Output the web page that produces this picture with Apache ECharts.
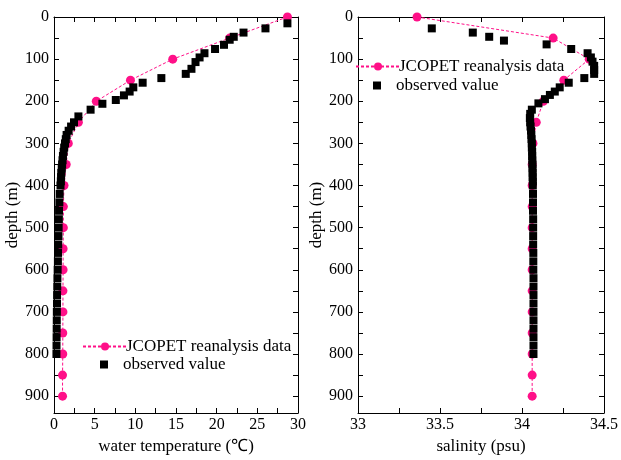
<!DOCTYPE html>
<html>
<head>
<meta charset="utf-8">
<script src="https://cdn.jsdelivr.net/npm/echarts@6/dist/echarts.min.js"></script>
<style>
  html, body { margin: 0; padding: 0; background: #fff; }
  #main { width: 621px; height: 460px; }
</style>
</head>
<body>
<div id="main"></div>
<script>
// JCOPET reanalysis profiles
var jcDepth = [0, 50, 100, 150, 200, 250, 300, 350, 400, 450, 500, 550, 600, 650, 700, 750, 800, 850, 900];
var jcTemp = [28.7, 21.6, 14.6, 9.4, 5.2, 3.0, 1.76, 1.5, 1.23, 1.15, 1.15, 1.12, 1.12, 1.1, 1.1, 1.08, 1.08, 1.05, 1.05];
var jcSal = [33.36, 34.19, 34.41, 34.255, 34.13, 34.087, 34.067, 34.062, 34.062, 34.062, 34.062, 34.062, 34.062, 34.062, 34.062, 34.062, 34.062, 34.062, 34.062];

// observed temperature profile
var obsTempDepth = [15, 27, 37, 47, 54, 66, 76, 86, 96, 107, 123, 135, 145, 156, 167, 177, 186, 197, 206, 220, 236, 250,
    260, 270, 280, 290, 300, 310, 320, 330, 340, 350, 360, 370, 380, 390, 400,
    420, 440, 460, 480, 500, 520, 540, 560, 580, 600, 620, 640, 660, 680, 700, 720, 740, 760, 780, 800];
var obsTemp = [28.7, 26.0, 23.3, 22.1, 21.6, 20.9, 19.8, 18.5, 17.9, 17.4, 16.9, 16.2, 13.2, 10.9, 9.75, 9.3, 8.6, 7.6, 5.95, 4.5, 3.0, 2.46,
    2.1, 1.8, 1.55, 1.45, 1.35, 1.25, 1.18, 1.1, 1.05, 1.0, 0.95, 0.9, 0.87, 0.84, 0.8,
    0.7, 0.66, 0.62, 0.6, 0.57, 0.55, 0.52, 0.5, 0.48, 0.45, 0.42, 0.4, 0.38, 0.37, 0.35, 0.34, 0.33, 0.32, 0.31, 0.3];

// observed salinity profile
var obsSalDepth = [27, 37, 47, 56, 65, 76, 86, 96, 106, 116, 126, 135, 145, 156, 167, 177, 185, 195, 205,
    220, 230, 240, 250, 260, 270, 280, 290, 300, 310, 320, 330, 340, 350, 360, 370, 380, 390, 400,
    420, 440, 460, 480, 500, 520, 540, 560, 580, 600, 620, 640, 660, 680, 700, 720, 740, 760, 780, 800];
var obsSal = [33.45, 33.70, 33.80, 33.89, 34.15, 34.30, 34.40, 34.42, 34.43, 34.44, 34.44, 34.44, 34.38, 34.285, 34.23, 34.20, 34.17, 34.14, 34.10,
    34.06, 34.05, 34.048, 34.05, 34.052, 34.055, 34.057, 34.058, 34.06, 34.06, 34.062, 34.062, 34.063, 34.064, 34.064, 34.065, 34.065, 34.066, 34.066,
    34.067, 34.067, 34.067, 34.068, 34.068, 34.068, 34.068, 34.069, 34.069, 34.069, 34.07, 34.07, 34.07, 34.07, 34.07, 34.07, 34.07, 34.07, 34.07, 34.07];

function pairs(xs, ys) {
    return xs.map(function (x, i) { return [x, ys[i]] })
}

var font = 'Liberation Serif'
var pink = '#ff1088'
var LINE_NAME = 'JCOPET reanalysis data'
var OBS_NAME = 'observed value'

function depthAxis(grid, right) {
    return {
        type: 'value',
        gridIndex: grid,
        position: right ? 'right' : 'left',
        inverse: true,
        min: 0,
        max: 940,
        interval: 50,
        name: right ? '' : 'depth (m)',
        nameLocation: 'middle',
        nameGap: 29,
        nameTextStyle: { fontFamily: font, fontSize: 17, color: '#000' },
        axisLine: { show: true, onZero: false, lineStyle: { color: '#000', width: 1 } },
        axisTick: { show: true, inside: true, length: 5, lineStyle: { color: '#000' } },
        axisLabel: {
            show: !right,
            fontFamily: font,
            fontSize: 16,
            color: '#000',
            margin: 5,
            formatter: function (v) { return v % 100 === 0 ? String(v) : '' }
        },
        splitLine: { show: false }
    }
}

function valueAxis(grid, top, min, max, step, labelStep, name) {
    return {
        type: 'value',
        gridIndex: grid,
        position: top ? 'top' : 'bottom',
        min: min,
        max: max,
        interval: step,
        name: top ? '' : name,
        nameLocation: 'middle',
        nameGap: 25,
        nameTextStyle: { fontFamily: font, fontSize: 17, color: '#000' },
        axisLine: { show: true, onZero: false, lineStyle: { color: '#000', width: 1 } },
        axisTick: { show: true, inside: true, length: 5, lineStyle: { color: '#000' } },
        axisLabel: {
            show: !top,
            fontFamily: font,
            fontSize: 16,
            color: '#000',
            margin: 4,
            formatter: function (v) {
                var k = Math.round(v / labelStep * 1000) / 1000
                return Math.abs(k - Math.round(k)) < 1e-6 ? String(Math.round(v * 100) / 100) : ''
            }
        },
        splitLine: { show: false }
    }
}

function lineLegend(left, top) {
    return {
        left: left, top: top, orient: 'vertical',
        itemWidth: 44, itemHeight: 10,
        textStyle: { fontFamily: font, fontSize: 17, color: '#000', padding: [0, 0, 0, -6] },
        data: [LINE_NAME]
    }
}

function obsLegend(left, top) {
    return {
        left: left, top: top, orient: 'vertical',
        itemWidth: 8, itemHeight: 8,
        textStyle: { fontFamily: font, fontSize: 17, color: '#000', padding: [0, 0, 0, 10] },
        data: [OBS_NAME]
    }
}

var chart = echarts.init(document.getElementById('main'))

var option = {
    animation: false,
    backgroundColor: '#fff',
    textStyle: { fontFamily: font },
    grid: [
        { left: 54, top: 17, width: 244, height: 396 },
        { left: 358, top: 17, width: 247, height: 396 }
    ],
    legend: [
        lineLegend(77, 333),
        obsLegend(95, 351),
        lineLegend(350, 53),
        obsLegend(368, 72)
    ],
    xAxis: [
        valueAxis(0, false, 0, 30, 2.5, 5, 'water temperature (℃)'),
        valueAxis(1, false, 33, 34.5, 0.25, 0.5, 'salinity (psu)'),
        valueAxis(0, true, 0, 30, 2.5, 5, ''),
        valueAxis(1, true, 33, 34.5, 0.25, 0.5, '')
    ],
    yAxis: [
        depthAxis(0, false),
        depthAxis(1, false),
        depthAxis(0, true),
        depthAxis(1, true)
    ],
    series: [
        {
            name: LINE_NAME,
            type: 'line',
            xAxisIndex: 0, yAxisIndex: 0,
            data: pairs(jcTemp, jcDepth),
            symbol: 'circle', symbolSize: 9,
            lineStyle: { color: pink, width: 1, type: [3, 2] },
            itemStyle: { color: pink },
            z: 2
        },
        {
            name: OBS_NAME,
            type: 'scatter',
            xAxisIndex: 0, yAxisIndex: 0,
            data: pairs(obsTemp, obsTempDepth),
            symbol: 'rect', symbolSize: 8,
            itemStyle: { color: '#000', opacity: 1 },
            z: 3
        },
        {
            name: LINE_NAME,
            type: 'line',
            xAxisIndex: 1, yAxisIndex: 1,
            data: pairs(jcSal, jcDepth),
            symbol: 'circle', symbolSize: 9,
            lineStyle: { color: pink, width: 1, type: [3, 2] },
            itemStyle: { color: pink },
            z: 2
        },
        {
            name: OBS_NAME,
            type: 'scatter',
            xAxisIndex: 1, yAxisIndex: 1,
            data: pairs(obsSal, obsSalDepth),
            symbol: 'rect', symbolSize: 8,
            itemStyle: { color: '#000', opacity: 1 },
            z: 3
        }
    ]
}

chart.setOption(option)
</script>
</body>
</html>
